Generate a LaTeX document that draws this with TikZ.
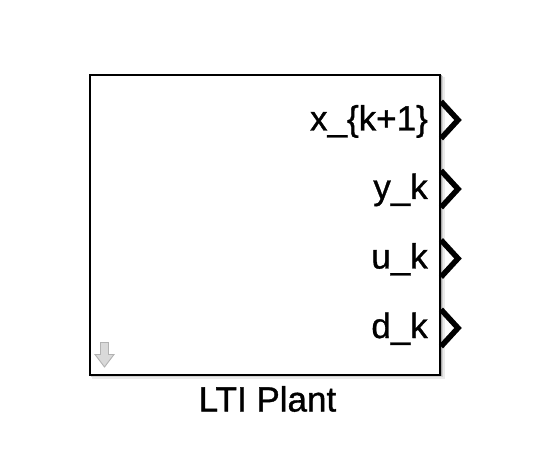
\documentclass[tikz,border=0pt]{standalone}
\usepackage{fontspec}
\setmainfont{Liberation Sans}
\newfontfamily\lblfont{Liberation Sans}[FakeBold=1.0]
\begin{document}
\begin{tikzpicture}[x=1pt,y=-1pt,
  lbl/.style={anchor=base east,inner sep=0pt,font=\lblfont\fontsize{35}{42}\selectfont},
  chev/.style={line width=5.5pt,miter limit=10,line join=miter},
  shad/.style={fill=black!#1,draw=none}]
\useasboundingbox (0,0) rectangle (538,462);
% shadow
\fill[shad=8] (92,77) rectangle (445,379);
\fill[shad=18] (91,76) rectangle (443,377);
\fill[shad=35] (90,75) rectangle (441.5,376);
% block
\node[draw=black,fill=white,line width=2.4pt,minimum width=350pt,minimum height=300pt,inner sep=0pt,anchor=north west] (plant) at (89,74) {};
% ports
\foreach \c/\n in {120/p1,189/p2,258.5/p3,328/p4}{
  \coordinate (\n) at (458,\c);
  \draw[chev] (441,\c-18.5) -- (\n) -- (441,\c+18.5);
}
\node[lbl] (l1) at (428,130.5) {x\_\{k+1\}};
\node[lbl] (l2) at (428,199) {y\_k};
\node[lbl] (l3) at (428,268.5) {u\_k};
\node[lbl] (l4) at (428,338) {d\_k};
% icon
\draw[draw=black!30,fill=black!15,line width=0.9pt,line join=miter]
  (100.5,342.5) -- (108.5,342.5) -- (108.5,354.5) -- (114,354.5) -- (104.5,367) -- (95,354.5) -- (100.5,354.5) -- cycle;
% name
\node[lbl,anchor=base] (name) at (267.5,411.5) {LTI Plant};
\end{tikzpicture}
\end{document}
